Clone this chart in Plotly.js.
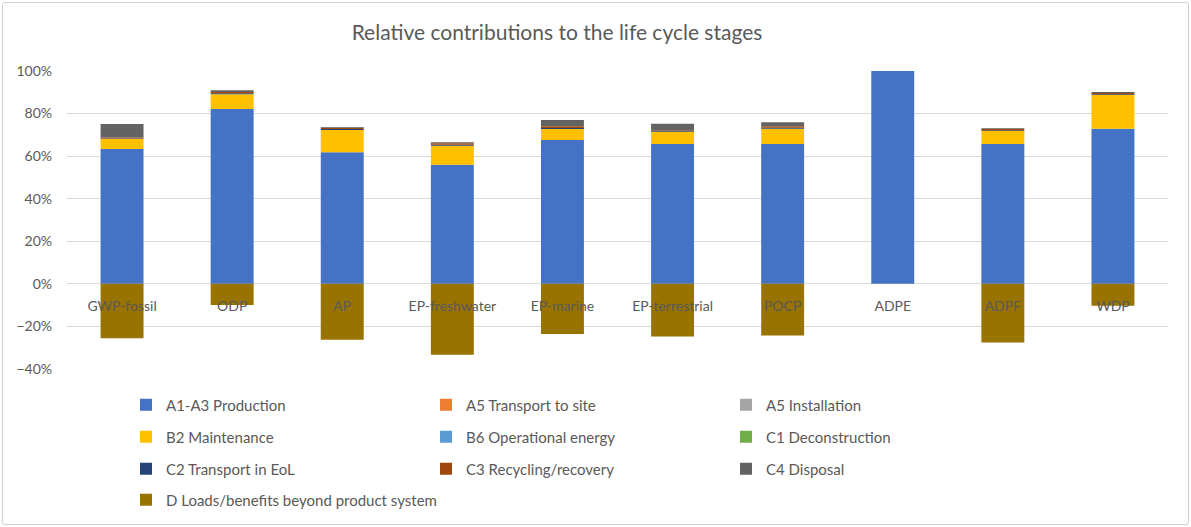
<!DOCTYPE html>
<html>
<head>
<meta charset="utf-8">
<script src="https://cdn.plot.ly/plotly-3.0.1.min.js"></script>
<style>
html,body{margin:0;padding:0;background:#fff;}
#chart{width:1191px;height:527px;}
#frame{position:absolute;left:2px;top:2px;width:1185px;height:521px;border:1px solid #d0d0d0;border-radius:3px;pointer-events:none;}
</style>
</head>
<body>
<div id="chart"></div>
<div id="frame"></div>
<script>
const categories = ["GWP-fossil","ODP","AP","EP-freshwater","EP-marine","EP-terrestrial","POCP","ADPE","ADPF","WDP"];
const seriesNames = ["A1-A3 Production","A5 Transport to site","A5 Installation","B2 Maintenance","B6 Operational energy","C1 Deconstruction","C2 Transport in EoL","C3 Recycling/recovery","C4 Disposal","D Loads/benefits beyond product system"];
const a1a3 = [63.4, 82.2, 61.8, 55.9, 67.6, 65.7, 65.7, 100, 65.7, 72.9];
const a5transport = [0,0,0,0,0,0,0,0,0,0];
const a5install = [0,0,0,0,0,0,0,0,0,0];
const b2 = [4.6, 6.9, 10.5, 9.0, 5.2, 5.8, 7.2, 0, 6.1, 15.8];
const b6 = [0,0,0,0,0,0,0,0,0,0];
const c1 = [0,0,0,0,0,0,0,0,0,0];
const c2 = [0.3, 0.4, 0.4, 0.4, 0.4, 0.3, 0.4, 0, 0.4, 0.4];
const c3 = [0.4, 0.6, 0.6, 0.8, 0.8, 0.4, 0.8, 0, 0.6, 0.6];
const c4 = [6.4, 0.9, 0.4, 0.4, 3.0, 3.0, 1.8, 0, 0.3, 0.4];
const d = [-25.5, -9.9, -26.3, -33.3, -23.6, -24.7, -24.3, 0, -27.5, -10.3];
const seriesValues = [a1a3, a5transport, a5install, b2, b6, c1, c2, c3, c4, d];
const colors = ["#4472C4","#ED7D31","#A5A5A5","#FFC000","#5B9BD5","#70AD47","#264478","#9E480E","#636363","#997300"];
const legendRows = ["legend","legend","legend","legend2","legend2","legend2","legend3","legend3","legend3","legend4"];

const traces = seriesNames.map((name, i) => ({
  type: "bar",
  name: name,
  x: categories,
  y: seriesValues[i],
  marker: {color: colors[i], line: {width: 0}},
  legend: legendRows[i],
  hoverinfo: "x+y+name"
}));

const txt = "#595959";
const fontFam = "Lato, 'Noto Sans', sans-serif";
function leg(ypx, ew){
  return {
    orientation: "h",
    x: (126-67)/1101, xanchor: "left",
    y: (370 - ypx)/299, yanchor: "middle",
    entrywidth: ew, entrywidthmode: "pixels",
    font: {family: fontFam, size: 15, color: txt},
    bgcolor: "rgba(0,0,0,0)",
    traceorder: "normal"
  };
}

const layout = {
  width: 1191, height: 527,
  margin: {l: 67, r: 23, t: 71, b: 157},
  paper_bgcolor: "#fff", plot_bgcolor: "#fff",
  barmode: "relative",
  bargap: 0.61,
  font: {family: fontFam, color: txt},
  title: {
    text: "Relative contributions to the life cycle stages",
    font: {family: fontFam, size: 21, color: txt},
    x: (557-67)/1101, xref: "paper", xanchor: "center",
    y: 1 - 33/527, yref: "container", yanchor: "middle"
  },
  xaxis: {
    anchor: "free", position: 40/140,
    showgrid: false, zeroline: false, showline: false,
    ticks: "", ticklabelstandoff: 12,
    tickfont: {family: fontFam, size: 14, color: txt},
    fixedrange: true
  },
  yaxis: {
    range: [-40, 100], dtick: 20, ticksuffix: "%",
    showgrid: true, gridcolor: "#d9d9d9", gridwidth: 1,
    zeroline: true, zerolinecolor: "#d9d9d9", zerolinewidth: 1,
    showline: false, ticks: "", ticklabelstandoff: 14,
    tickfont: {family: fontFam, size: 14, color: txt},
    fixedrange: true
  },
  showlegend: true,
  legend: leg(405, 255),
  legend2: leg(437, 255),
  legend3: leg(469, 255),
  legend4: leg(500, 500)
};

Plotly.newPlot("chart", traces, layout, {displayModeBar: false, staticPlot: true});
</script>
</body>
</html>
